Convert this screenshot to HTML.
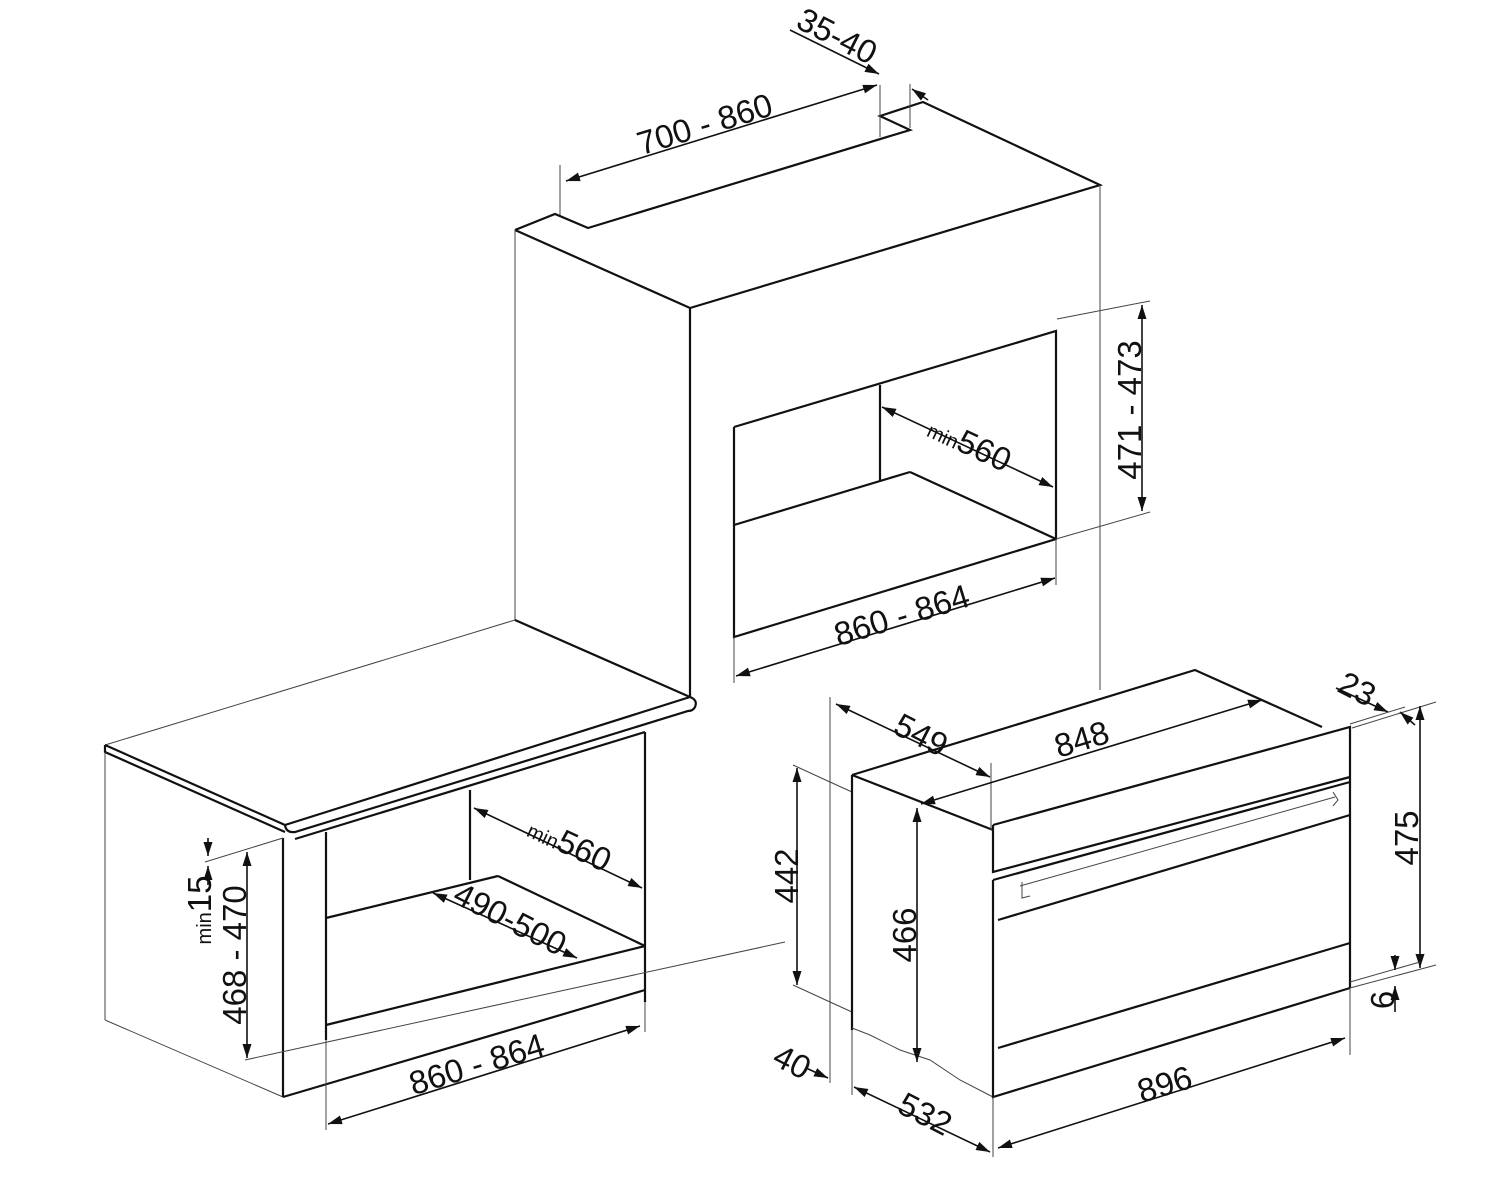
<!DOCTYPE html>
<html><head><meta charset="utf-8"><style>
html,body{margin:0;padding:0;background:#fff;}
svg{display:block}
text{font-family:"Liberation Sans",sans-serif;font-size:33px;fill:#111;}
.t{stroke:#111;stroke-width:2.2;fill:none}
.n{stroke:#444;stroke-width:1;fill:none}
.d{stroke:#111;stroke-width:1.6;fill:none}
</style></head><body>
<svg width="1500" height="1200" viewBox="0 0 1500 1200" xmlns="http://www.w3.org/2000/svg">
<defs>
<marker id="a" viewBox="0 0 14 9" refX="14" refY="4.5" markerWidth="14" markerHeight="9" markerUnits="userSpaceOnUse" orient="auto-start-reverse"><path d="M0,0L14,4.5L0,9z" fill="#111"/></marker>
</defs>

<!-- tall cabinet -->
<polyline class="t" points="515,230 555,214 588,228 910,130 880,116 923,102 1100,185 690,308 515,230"/>
<line class="n" x1="515" y1="230" x2="515" y2="620"/>
<line class="t" x1="690" y1="308" x2="690" y2="698"/>
<line class="n" x1="1100" y1="185" x2="1100" y2="690"/>
<line class="n" x1="560" y1="165" x2="560" y2="215"/>
<line class="n" x1="880" y1="85" x2="880" y2="137"/>
<line class="n" x1="910" y1="84" x2="910" y2="128"/>
<line class="d" x1="566" y1="181" x2="877" y2="85" marker-start="url(#a)" marker-end="url(#a)"/>
<text transform="translate(708,135) rotate(-17)" text-anchor="middle">700 - 860</text>
<line class="d" x1="790" y1="30" x2="879" y2="74" marker-end="url(#a)"/>
<text transform="translate(832,46) rotate(27)" text-anchor="middle">35-40</text>
<line class="d" x1="928" y1="100" x2="912" y2="89" marker-end="url(#a)"/>

<!-- upper opening -->
<polyline class="t" points="734,427 1056,331 1056,539 734,637 734,427"/>
<line class="t" x1="734" y1="525" x2="910" y2="472"/>
<line class="t" x1="910" y1="472" x2="1056" y2="539"/>
<line class="t" x1="880" y1="385" x2="880" y2="481"/>
<line class="d" x1="882" y1="407" x2="1053" y2="487" marker-start="url(#a)" marker-end="url(#a)"/>
<text transform="translate(965,454) rotate(25)" text-anchor="middle"><tspan font-size="20">min</tspan>560</text>
<line class="n" x1="1057" y1="319" x2="1150" y2="301"/>
<line class="n" x1="1056" y1="539" x2="1150" y2="512"/>
<line class="d" x1="1142" y1="305" x2="1142" y2="511" marker-start="url(#a)" marker-end="url(#a)"/>
<text transform="translate(1141,410) rotate(-90)" text-anchor="middle">471 - 473</text>
<line class="n" x1="734" y1="637" x2="734" y2="683"/>
<line class="n" x1="1056" y1="539" x2="1056" y2="585"/>
<line class="d" x1="736" y1="676" x2="1055" y2="578" marker-start="url(#a)" marker-end="url(#a)"/>
<text transform="translate(905,626) rotate(-17)" text-anchor="middle">860 - 864</text>

<!-- countertop & lower cabinet -->
<line class="n" x1="105" y1="745" x2="515" y2="620"/>
<polyline class="t" points="515,620 690,697"/>
<path class="t" d="M105,745 L105,752 L285,832 M105,745 L285,825 M285,825 L690,697 Q698,700 695,707 Q693,711 688,711 L295,832 Q286,833 285,825"/>
<line class="n" x1="105" y1="752" x2="105" y2="1020"/>
<line class="n" x1="105" y1="1020" x2="283" y2="1097"/>
<line class="t" x1="283" y1="838" x2="283" y2="1097"/>
<line class="t" x1="283" y1="1097" x2="645" y2="990"/>
<line class="t" x1="645" y1="732" x2="645" y2="1002"/>
<line class="t" x1="326" y1="832" x2="326" y2="1040"/>
<line class="t" x1="295" y1="839" x2="645" y2="732"/>
<line class="t" x1="470" y1="790" x2="470" y2="880"/>
<line class="t" x1="326" y1="918" x2="498" y2="876"/>
<line class="t" x1="498" y1="876" x2="645" y2="946"/>
<line class="t" x1="326" y1="1025" x2="645" y2="946"/>
<line class="n" x1="205" y1="862" x2="283" y2="838"/>
<line class="n" x1="245" y1="1060" x2="785" y2="942"/>
<line class="d" x1="208" y1="838" x2="208" y2="856" marker-end="url(#a)"/>
<line class="d" x1="208" y1="885" x2="208" y2="866" marker-end="url(#a)"/>
<text transform="translate(211,910) rotate(-90)" text-anchor="middle"><tspan font-size="20">min</tspan>15</text>
<line class="d" x1="247" y1="852" x2="247" y2="1058" marker-start="url(#a)" marker-end="url(#a)"/>
<text transform="translate(246,955) rotate(-90)" text-anchor="middle">468 - 470</text>
<line class="d" x1="474" y1="808" x2="642" y2="888" marker-start="url(#a)" marker-end="url(#a)"/>
<text transform="translate(565,854) rotate(25)" text-anchor="middle"><tspan font-size="20">min</tspan>560</text>
<line class="d" x1="433" y1="893" x2="577" y2="958" marker-start="url(#a)" marker-end="url(#a)"/>
<text transform="translate(505,929) rotate(27)" text-anchor="middle">490-500</text>
<line class="n" x1="326" y1="1040" x2="326" y2="1130"/>
<line class="n" x1="645" y1="1002" x2="645" y2="1032"/>
<line class="d" x1="328" y1="1124" x2="640" y2="1026" marker-start="url(#a)" marker-end="url(#a)"/>
<text transform="translate(480,1075) rotate(-17)" text-anchor="middle">860 - 864</text>

<!-- oven -->
<line class="n" x1="830" y1="697" x2="830" y2="1083"/>
<polyline class="n" points="793,765 830,782 852,792"/>
<polyline class="n" points="793,985 830,1002 852,1012"/>
<polyline class="t" points="852,775 1195,670 1322,727"/>
<line class="t" x1="852" y1="775" x2="993" y2="830"/>
<line class="t" x1="852" y1="775" x2="852" y2="1030"/>
<path class="n" d="M852,1028 L870,1035 L900,1050 L930,1060 L960,1080 L993,1097"/>
<path class="t" d="M993,825 L1350,727 L1350,988 M993,825 L993,872 L1350,777 M993,880 L993,1097 L1350,988 M993,880 L1350,782 M998,920 L1350,815 M998,1048 L1350,943"/>
<path class="n" d="M1020,886 L1335,797 M1022,882 L1022,898 L1030,896 M1333,792 L1338,800 L1333,806"/>
<!-- oven dims -->
<line class="d" x1="836" y1="704" x2="990" y2="777" marker-start="url(#a)" marker-end="url(#a)"/>
<text transform="translate(916,745) rotate(27)" text-anchor="middle">549</text>
<line class="n" x1="991" y1="763" x2="991" y2="830"/>
<line class="d" x1="921" y1="804" x2="1262" y2="700" marker-start="url(#a)" marker-end="url(#a)"/>
<text transform="translate(1085,750) rotate(-17)" text-anchor="middle">848</text>
<line class="d" x1="1336" y1="688" x2="1388" y2="712" marker-end="url(#a)"/>
<text transform="translate(1352,699) rotate(27)" text-anchor="middle">23</text>
<line class="n" x1="1350" y1="724" x2="1405" y2="707"/>
<line class="n" x1="1352" y1="728" x2="1436" y2="702"/>
<line class="d" x1="1415" y1="725" x2="1400" y2="712" marker-end="url(#a)"/>
<line class="d" x1="1420" y1="706" x2="1420" y2="968" marker-start="url(#a)" marker-end="url(#a)"/>
<text transform="translate(1418,838) rotate(-90)" text-anchor="middle">475</text>
<line class="n" x1="1350" y1="988" x2="1436" y2="965"/>
<line class="n" x1="1350" y1="982" x2="1420" y2="962"/>
<line class="d" x1="1395" y1="955" x2="1395" y2="970" marker-end="url(#a)"/>
<line class="d" x1="1395" y1="1012" x2="1395" y2="986" marker-end="url(#a)"/>
<text transform="translate(1394,1000) rotate(-90)" text-anchor="middle">6</text>
<line class="d" x1="797" y1="768" x2="797" y2="985" marker-start="url(#a)" marker-end="url(#a)"/>
<text transform="translate(798,876) rotate(-90)" text-anchor="middle">442</text>
<line class="d" x1="917" y1="808" x2="917" y2="1062" marker-start="url(#a)" marker-end="url(#a)"/>
<text transform="translate(916,935) rotate(-90)" text-anchor="middle">466</text>
<line class="d" x1="806" y1="1068" x2="828" y2="1078" marker-end="url(#a)"/>
<text transform="translate(787,1072) rotate(27)" text-anchor="middle">40</text>
<line class="n" x1="852" y1="1030" x2="852" y2="1095"/>
<line class="n" x1="993" y1="1097" x2="993" y2="1157"/>
<line class="d" x1="854" y1="1087" x2="990" y2="1152" marker-start="url(#a)" marker-end="url(#a)"/>
<text transform="translate(920,1124) rotate(27)" text-anchor="middle">532</text>
<line class="n" x1="1350" y1="988" x2="1350" y2="1055"/>
<line class="d" x1="998" y1="1148" x2="1345" y2="1038" marker-start="url(#a)" marker-end="url(#a)"/>
<text transform="translate(1168,1095) rotate(-17)" text-anchor="middle">896</text>
</svg>
</body></html>
